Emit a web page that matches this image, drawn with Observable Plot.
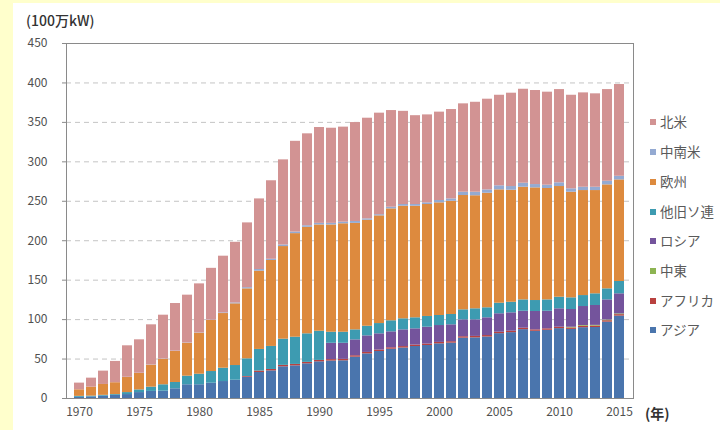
<!DOCTYPE html>
<html>
<head>
<meta charset="utf-8">
<script src="https://cdn.jsdelivr.net/npm/d3@7"></script>
<script src="https://cdn.jsdelivr.net/npm/@observablehq/plot@0.6"></script>
<style>
html,body{margin:0;padding:0;}
body{width:720px;height:430px;background:#FFFFCC;position:relative;overflow:hidden;font-family:"Noto Sans CJK JP","Noto Sans",sans-serif;}
#panel{position:absolute;left:13px;top:3px;width:707px;height:427px;background:#ffffff;}
#chart{position:absolute;left:0;top:0;}
.lbl{position:absolute;color:#333;font-size:14px;font-weight:500;line-height:1;white-space:nowrap;}
.item{position:absolute;left:650px;display:flex;align-items:center;font-size:13.5px;color:#5a5a5a;line-height:1;white-space:nowrap;}
.sw{width:6px;height:6px;margin-right:4px;}
</style>
</head>
<body>
<div id="panel"></div>
<div id="chart"></div>
<div class="lbl" style="left:26px;top:13px;">(100万kW)</div>
<div class="lbl" style="left:645px;top:406px;font-weight:700;">(年)</div>
<div id="legend"></div>
<script>
const years = [1970,1971,1972,1973,1974,1975,1976,1977,1978,1979,
  1980,1981,1982,1983,1984,1985,1986,1987,1988,1989,
  1990,1991,1992,1993,1994,1995,1996,1997,1998,1999,
  2000,2001,2002,2003,2004,2005,2006,2007,2008,2009,
  2010,2011,2012,2013,2014,2015];
const yearTicks = [1970,1975,1980,1985,1990,1995,2000,2005,2010,2015];
const yTicks = [0,50,100,150,200,250,300,350,400,450];

const asia = [1.5,2,3,4,5,7.5,9,9.3,12.3,17.4,
  17.4,19.4,21.5,23.2,27,33,35,40.2,41.4,44,
  46.5,47.5,47.8,52.4,56.6,59.6,62.5,64,65.9,67.2,
  69.3,70.2,76.5,76.9,78,82.2,83.5,87.3,85.2,86.5,
  88.6,87.6,89.8,90,96.8,104.5];
const africa = [0,0,0,0,0,0,0,0,0,0,
  0,0,0,0,0.9,1.8,1.8,1.8,1.8,1.8,
  1.8,1.8,1.8,1.8,1.8,1.8,1.8,1.8,1.8,1.8,
  1.8,1.8,1.8,1.8,1.8,1.8,1.8,1.8,1.8,1.8,
  1.8,1.8,1.8,1.8,1.8,1.8];
const middleEast = [0,0,0,0,0,0,0,0,0,0,
  0,0,0,0,0,0,0,0,0,0,
  0,0,0,0,0,0,0,0,0,0,
  0,0,0,0,0,0,0,0,0,0,
  0,0.9,0.9,0.9,0.9,0.9];
const russia = [0,0,0,0,0,0,0,0,0,0,
  0,0,0,0,0,0,0,0,0,0,
  0,20.7,20.4,20.1,21,20.6,20.2,21.2,20.6,21.4,
  21.4,21.4,21.4,21,22.5,23.4,23.3,21.5,23.3,22.3,
  23.3,22.5,24.1,25.2,25.5,25.5];
const otherFSU = [1.2,1,1,1,2.5,3.4,5.4,8.1,8,10.9,
  13.4,14.8,16.9,18.6,22.4,27.4,29.2,33.2,34.5,36.2,
  37,14,14,12.7,12.2,13,14,14,14,13.6,
  12.7,13.1,12.7,14,12.7,13.4,13.4,14.4,13.9,14.4,
  14.7,14.8,13.9,14.8,14,15.6];
const europe = [8.3,11.4,13.8,15,19.1,20.8,27.8,32.4,39.3,41.7,
  52,64.7,69.3,78.2,88.7,99.2,109,117.4,131.3,135,
  134.7,136,137.5,135,134.4,136.5,141.9,142.7,141.4,141.9,
  142.8,143.5,144.9,143.3,145.2,143.7,142,142.8,142.8,141.2,
  140.3,133.9,133.1,130.9,131.8,128.8];
const latinAmerica = [0,0,0,0,0.3,0.3,0.3,0.4,0.4,0.4,
  0.4,0.4,0.8,1.1,1.5,2.1,1.5,2,2,2,
  2,2,2,2.4,1.7,1.5,2.1,2.2,2.2,2.1,
  3,3,4.2,4.5,4.2,5.1,4.7,5.1,4.2,4.2,
  4.7,4.3,4.2,4.2,4.6,4.6];
const northAmerica = [8.5,11.4,16.9,27,39.9,42.4,50.9,55.4,60.4,60.6,
  62.1,65.7,71.9,76.9,82.1,89.5,99.5,107.9,115,116.5,
  121.5,120.6,120.5,125.4,127.6,128.7,122.5,118.1,112.6,111.5,
  112,113.3,112,114,115,114.8,118.3,119.1,119.2,117.9,
  118.2,118.6,119.6,118.4,116.2,116.3];

// stacking order bottom -> top
const regions = ["アジア","アフリカ","中東","ロシア","他旧ソ連","欧州","中南米","北米"];
const colors  = ["#4A75AD","#B9413F","#8DB452","#74549C","#3D9BB1","#DD8A3E","#94AAD2","#D29393"];
const legendOrder = ["北米","中南米","欧州","他旧ソ連","ロシア","中東","アフリカ","アジア"];

const seriesByRegion = {
  "アジア": asia, "アフリカ": africa, "中東": middleEast, "ロシア": russia,
  "他旧ソ連": otherFSU, "欧州": europe, "中南米": latinAmerica, "北米": northAmerica
};
const rows = [];
years.forEach((yr, i) => {
  regions.forEach(r => rows.push({year: yr, region: r, value: seriesByRegion[r][i]}));
});

const chart = Plot.plot({
  width: 720,
  height: 430,
  marginLeft: 66,
  marginRight: 87,
  marginTop: 43,
  marginBottom: 32,
  style: {background: "transparent", fontFamily: "'Noto Sans CJK JP','Noto Sans',sans-serif", fontSize: "12px", color: "#505050"},
  x: {type: "band", domain: years, padding: 0.16, label: null},
  y: {domain: [0, 450], label: null},
  color: {domain: regions, range: colors},
  marks: [
    Plot.gridY(yTicks.filter(v => v > 0 && v < 450), {stroke: "#C4C4C4", strokeOpacity: 1, strokeDasharray: "5,4"}),
    Plot.barY(rows, {x: "year", y: "value", fill: "region"}),
    Plot.frame({stroke: "#8A8A8A"}),
    Plot.axisY(yTicks, {tickSize: 4, tickPadding: 15, stroke: "#8A8A8A", fill: "#505050", label: null}),
    Plot.axisX(yearTicks, {tickSize: 0, tickPadding: 9, tickFormat: d => String(d), fill: "#505050", label: null})
  ]
});
document.getElementById("chart").appendChild(chart);

// legend
const legend = document.getElementById("legend");
const legendY = [122,152,182,212,241,271,301,330];
legendOrder.forEach((name, i) => {
  const item = document.createElement("div");
  item.className = "item";
  item.style.top = (legendY[i] - 7) + "px";
  const sw = document.createElement("span");
  sw.className = "sw";
  sw.style.background = colors[regions.indexOf(name)];
  const t = document.createElement("span");
  t.textContent = name;
  item.appendChild(sw);
  item.appendChild(t);
  legend.appendChild(item);
});
</script>
</body>
</html>
